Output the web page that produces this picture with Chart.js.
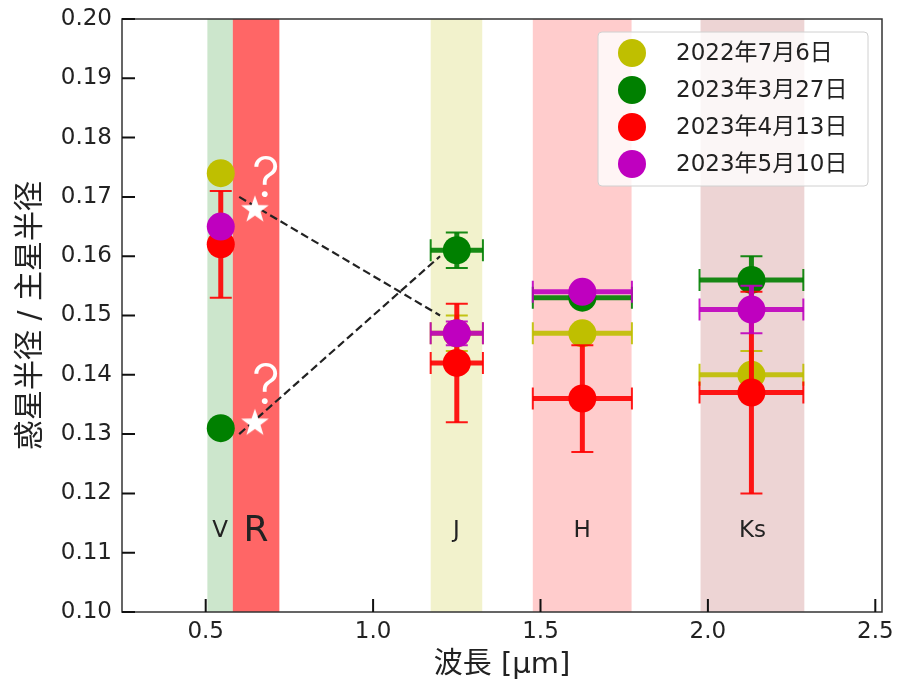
<!DOCTYPE html>
<html>
<head>
<meta charset="utf-8">
<script src="https://cdn.jsdelivr.net/npm/chart.js@4.4.1/dist/chart.umd.min.js"></script>
<style>
  body { margin: 0; background: #fff; }
  #wrap { width: 897px; height: 685px; }
</style>
</head>
<body>
<div id="wrap"><canvas id="chart" width="897" height="685"></canvas></div>
<script>
// observation dates and colours
var dates = ['2022年7月6日', '2023年3月27日', '2023年4月13日', '2023年5月10日'];
var colors = ['#bfbf00', '#008000', '#ff0000', '#bf00bf'];

// band centres (um) and half widths
var waveX = [0.545, 1.25, 1.625, 2.13];
var waveErr = [0, 0.078, 0.148, 0.155];

// radius ratio per date, one value per band (V, J, H, Ks)
var ratio2022_0706 = [0.174, 0.147, 0.147, 0.140];
var err2022_0706 = [0, 0.003, 0.001, 0.004];
var ratio2023_0327 = [0.131, 0.161, 0.153, 0.156];
var err2023_0327 = [0.001, 0.003, 0.001, 0.004];
var ratio2023_0413 = [0.162, 0.142, 0.136, 0.137];
var err2023_0413 = [0.009, 0.010, 0.009, 0.017];
var ratio2023_0510 = [0.165, 0.147, 0.154, 0.151];
var err2023_0510 = [0, 0.002, 0.001, 0.004];

// filter bands
var bandNames = ['V', 'R', 'J', 'H', 'Ks'];
var bandLo = [0.505, 0.581, 1.172, 1.477, 1.978];
var bandHi = [0.581, 0.72, 1.326, 1.772, 2.288];
var bandColors = ['rgba(0,128,0,0.2)', 'rgba(255,0,0,0.6)', 'rgba(191,191,0,0.2)', 'rgba(255,0,0,0.2)', 'rgba(165,42,42,0.2)'];
var bandLabelY = 0.1127;

// R-band question marks and the dashed guide lines
var starX = [0.647, 0.647];
var starY = [0.168, 0.132];
var questionY = [0.170, 0.135];
var guide1X = [0.60, 1.20], guide1Y = [0.170, 0.150];
var guide2X = [0.60, 1.20], guide2Y = [0.130, 0.160];

var xTicks = [0.5, 1.0, 1.5, 2.0, 2.5];
var yTicks = [0.10, 0.11, 0.12, 0.13, 0.14, 0.15, 0.16, 0.17, 0.18, 0.19, 0.20];

var FONT = "'DejaVu Sans', 'Noto Sans CJK JP', sans-serif";
var ratios = [ratio2022_0706, ratio2023_0327, ratio2023_0413, ratio2023_0510];
var errs = [err2022_0706, err2023_0327, err2023_0413, err2023_0510];

function pts(xs, ys) {
  return xs.map(function (x, i) { return { x: x, y: ys[i] }; });
}

// white star as point image
var starImg = document.createElement('canvas');
starImg.width = 32; starImg.height = 32;
(function () {
  var c = starImg.getContext('2d');
  c.fillStyle = '#fff';
  c.beginPath();
  for (var i = 0; i < 10; i++) {
    var r = i % 2 === 0 ? 14.5 : 5.8;
    var a = -Math.PI / 2 + i * Math.PI / 5;
    c.lineTo(16 + r * Math.cos(a), 17 + r * Math.sin(a));
  }
  c.closePath();
  c.fill();
})();

var datasets = [];
for (var d = 0; d < dates.length; d++) {
  datasets.push({
    type: 'scatter',
    label: dates[d],
    data: pts(waveX, ratios[d]),
    backgroundColor: colors[d],
    borderWidth: 0,
    pointRadius: 14,
    pointHoverRadius: 14,
    order: 4 - d,
    errIndex: d
  });
}
datasets.push({
  type: 'line', label: 'guide1', data: pts(guide1X, guide1Y),
  borderColor: '#222', borderWidth: 2.2, borderDash: [8, 4], pointRadius: 0, fill: false, order: 10
});
datasets.push({
  type: 'line', label: 'guide2', data: pts(guide2X, guide2Y),
  borderColor: '#222', borderWidth: 2.2, borderDash: [8, 4], pointRadius: 0, fill: false, order: 10
});
datasets.push({
  type: 'scatter', label: 'star', data: pts(starX, starY),
  pointStyle: starImg, pointRadius: 14, order: 9
});

var bandPlugin = {
  id: 'bands',
  beforeDatasetsDraw: function (chart) {
    var ctx = chart.ctx, xs = chart.scales.x, a = chart.chartArea;
    ctx.save();
    for (var i = 0; i < bandNames.length; i++) {
      var x0 = xs.getPixelForValue(bandLo[i]), x1 = xs.getPixelForValue(bandHi[i]);
      ctx.fillStyle = bandColors[i];
      ctx.fillRect(x0, a.top, x1 - x0, a.bottom - a.top);
    }
    ctx.restore();
  }
};

var errPlugin = {
  id: 'errbars',
  beforeDatasetDraw: function (chart, args) {
    var ds = chart.data.datasets[args.index];
    if (ds.errIndex === undefined) return;
    var ctx = chart.ctx, xs = chart.scales.x, ys = chart.scales.y;
    var vals = ratios[ds.errIndex], ev = errs[ds.errIndex];
    ctx.save();
    ctx.strokeStyle = ds.backgroundColor;
    ctx.globalAlpha = 0.9;
    for (var i = 0; i < waveX.length; i++) {
      var px = xs.getPixelForValue(waveX[i]), py = ys.getPixelForValue(vals[i]);
      if (ev[i] > 0) {
        var y0 = ys.getPixelForValue(vals[i] - ev[i]), y1 = ys.getPixelForValue(vals[i] + ev[i]);
        ctx.lineWidth = 5;
        ctx.beginPath(); ctx.moveTo(px, y0); ctx.lineTo(px, y1); ctx.stroke();
        ctx.lineWidth = 2;
        ctx.beginPath();
        ctx.moveTo(px - 11, y0); ctx.lineTo(px + 11, y0);
        ctx.moveTo(px - 11, y1); ctx.lineTo(px + 11, y1);
        ctx.stroke();
      }
      if (waveErr[i] > 0) {
        var x0 = xs.getPixelForValue(waveX[i] - waveErr[i]), x1 = xs.getPixelForValue(waveX[i] + waveErr[i]);
        ctx.lineWidth = 5;
        ctx.beginPath(); ctx.moveTo(x0, py); ctx.lineTo(x1, py); ctx.stroke();
        ctx.lineWidth = 2;
        ctx.beginPath();
        ctx.moveTo(x0, py - 11); ctx.lineTo(x0, py + 11);
        ctx.moveTo(x1, py - 11); ctx.lineTo(x1, py + 11);
        ctx.stroke();
      }
    }
    ctx.restore();
  }
};

var decoPlugin = {
  id: 'deco',
  afterDatasetsDraw: function (chart) {
    var ctx = chart.ctx, xs = chart.scales.x, ys = chart.scales.y;
    ctx.save();
    // band names
    ctx.fillStyle = '#222';
    ctx.textAlign = 'center';
    ctx.textBaseline = 'alphabetic';
    for (var i = 0; i < bandNames.length; i++) {
      ctx.font = (bandNames[i] === 'R' ? '36px ' : '23px ') + FONT;
      ctx.fillText(bandNames[i], xs.getPixelForValue((bandLo[i] + bandHi[i]) / 2), ys.getPixelForValue(bandLabelY) + (bandNames[i] === 'R' ? 4 : 0));
    }
    // question marks
    ctx.fillStyle = '#fff';
    ctx.font = "300 56px Inter, 'Noto Sans', sans-serif";
    for (var j = 0; j < starX.length; j++) {
      ctx.fillText('?', xs.getPixelForValue(starX[j]) + 11, ys.getPixelForValue(questionY[j]));
    }
    ctx.restore();
  },
  afterDraw: function (chart) {
    var ctx = chart.ctx, xs = chart.scales.x, ys = chart.scales.y, a = chart.chartArea;
    ctx.save();
    // frame
    ctx.strokeStyle = '#333';
    ctx.lineWidth = 1.5;
    ctx.strokeRect(a.left, a.top, a.right - a.left, a.bottom - a.top);
    // inward ticks
    ctx.strokeStyle = '#111';
    ctx.lineWidth = 2;
    ctx.beginPath();
    xTicks.forEach(function (v) {
      var p = xs.getPixelForValue(v);
      ctx.moveTo(p, a.bottom); ctx.lineTo(p, a.bottom - 13);
    });
    yTicks.forEach(function (v) {
      var p = ys.getPixelForValue(v);
      ctx.moveTo(a.left, p); ctx.lineTo(a.left + 13, p);
    });
    ctx.stroke();
    // legend
    var lx = 598, ly = 32, lw = 270, lh = 154;
    ctx.fillStyle = 'rgba(255,255,255,0.8)';
    ctx.strokeStyle = '#d0d0d0';
    ctx.lineWidth = 1;
    ctx.beginPath();
    ctx.roundRect(lx, ly, lw, lh, 4);
    ctx.fill(); ctx.stroke();
    ctx.font = '23px ' + FONT;
    ctx.textAlign = 'left';
    ctx.textBaseline = 'middle';
    for (var k = 0; k < dates.length; k++) {
      var ry = 53 + k * 37;
      ctx.fillStyle = colors[k];
      ctx.beginPath(); ctx.arc(632, ry, 14, 0, Math.PI * 2); ctx.fill();
      ctx.fillStyle = '#222';
      ctx.fillText(dates[k], 676, ry + 1);
    }
    ctx.restore();
  }
};

new Chart(document.getElementById('chart'), {
  type: 'scatter',
  data: { datasets: datasets },
  options: {
    responsive: false,
    animation: false,
    layout: { padding: { top: 19, right: 14, left: 0, bottom: 0 } },
    plugins: { legend: { display: false }, tooltip: { enabled: false } },
    scales: {
      x: {
        type: 'linear', min: 0.25, max: 2.52,
        afterBuildTicks: function (s) { s.ticks = xTicks.map(function (v) { return { value: v }; }); },
        afterFit: function (s) { s.height = 73; s.paddingLeft = 0; s.paddingRight = 0; },
        grid: { display: false, drawTicks: false },
        border: { display: false },
        ticks: { padding: 6, color: '#222', font: { family: FONT, size: 23 }, callback: function (v) { return v.toFixed(1); } },
        title: { display: true, text: '波長 [μm]', color: '#222', font: { family: FONT, size: 29 }, padding: { top: 0, bottom: 2 } }
      },
      y: {
        type: 'linear', min: 0.10, max: 0.20,
        afterBuildTicks: function (s) { s.ticks = yTicks.map(function (v) { return { value: v }; }); },
        afterFit: function (s) { s.width = 122; s.paddingTop = 0; s.paddingBottom = 0; },
        grid: { display: false, drawTicks: false },
        border: { display: false },
        ticks: { padding: 10, color: '#222', font: { family: FONT, size: 23 }, callback: function (v) { return v.toFixed(2); } },
        title: { display: true, text: '惑星半径 / 主星半径', color: '#222', font: { family: FONT, size: 30 }, padding: { top: 13, bottom: 0 } }
      }
    }
  },
  plugins: [bandPlugin, errPlugin, decoPlugin]
});
</script>
</body>
</html>
